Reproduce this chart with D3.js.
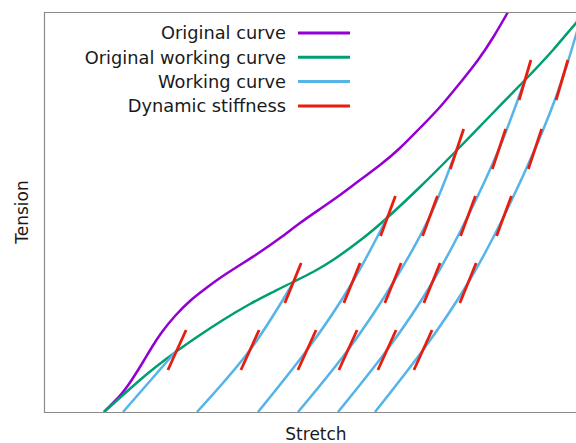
<!DOCTYPE html>
<html><head><meta charset="utf-8">
<script src="https://cdn.jsdelivr.net/npm/d3@7"></script>
<style>
html,body{margin:0;padding:0;background:#fff;}
svg{display:block;}
text{font-family:"DejaVu Sans",Verdana,sans-serif;fill:#1a1a1a;}
</style></head>
<body>
<svg id="chart" width="576" height="443"></svg>
<script>
// ---- data (arbitrary units: stretch, tension) ----
const originalCurve = [[60,0],[69,9],[79,20],[89,34],[99,50],[108,65],[118,80],[131,96],[146,111],[161,123],[176,134],[196,147],[216,160],[236,174],[256,189],[276,203],[296,217],[316,232],[336,247],[356,264],[376,284],[396,305],[416,329],[434,352],[450,376],[464,400]];
const originalWorkingCurve = [[60,0],[79,17],[96,32],[113,46],[133,61],[153,75],[179,92],[206,108],[229,120],[249,130],[269,140],[289,152],[306,164],[323,177],[344,195],[376,225],[413,262],[446,296],[481,332],[509,362],[532,389],[545,402]];
const workingCurve1 = [[79,0],[106,31],[133,62]];
const workingCurve2 = [[153,0],[206,62],[249,129]];
const workingCurve3 = [[214,0],[263,62],[308,129],[344,196]];
const workingCurve4 = [[254,0],[304,62],[349,129],[386,196],[413,263]];
const workingCurve5 = [[294,0],[343,62],[388,129],[424,196],[455,263],[481,332]];
const workingCurve6 = [[331,0],[379,62],[424,129],[460,196],[491,263],[518,332],[540,405]];
const workingCurves = [workingCurve1, workingCurve2, workingCurve3, workingCurve4, workingCurve5, workingCurve6];
// dynamic stiffness: tension level, stretch positions on working curves, slope
const stiffnessLevels = [62, 129, 196, 263, 332];
const stiffnessStretch = [
  [133, 206, 263, 304, 343, 379],
  [249, 308, 349, 388, 424],
  [344, 386, 424, 460],
  [413, 455, 491],
  [481, 518]
];
const stiffnessSlope = [2.2, 2.45, 2.7, 3.0, 3.4];
const stiffnessHalfSpan = 20; // tension half span of each stiffness segment
const legendLabels = ["Original curve", "Original working curve", "Working curve", "Dynamic stiffness"];
const colors = ["#9400d3", "#009e73", "#56b4e9", "#e51e10"];
const xLabel = "Stretch", yLabel = "Tension";

// ---- layout ----
const svg = d3.select("#chart");
const mLeft = 44, mTop = 12, mBottom = 412, mRight = 576;
const x = d3.scaleLinear().domain([0, 532]).range([mLeft, mRight]);
const y = d3.scaleLinear().domain([0, 400]).range([mBottom, mTop]);

svg.append("defs").append("clipPath").attr("id", "clip")
  .append("rect").attr("x", mLeft).attr("y", mTop).attr("width", 600).attr("height", mBottom - mTop);

const line = d3.line().x(d => x(d[0])).y(d => y(d[1])).curve(d3.curveNatural);
const g = svg.append("g").attr("clip-path", "url(#clip)");

g.append("path").datum(originalCurve).attr("d", line)
  .attr("fill", "none").attr("stroke", colors[0]).attr("stroke-width", 2.5);
g.append("path").datum(originalWorkingCurve).attr("d", line)
  .attr("fill", "none").attr("stroke", colors[1]).attr("stroke-width", 2.5);
g.selectAll("path.work").data(workingCurves).join("path").attr("class", "work")
  .attr("d", line).attr("fill", "none").attr("stroke", colors[2]).attr("stroke-width", 2.5);

const segs = [];
stiffnessLevels.forEach((t, i) => {
  stiffnessStretch[i].forEach(s => {
    const dx = stiffnessHalfSpan / stiffnessSlope[i];
    segs.push([[s - dx, t - stiffnessHalfSpan], [s + dx, t + stiffnessHalfSpan]]);
  });
});
g.selectAll("line.stiff").data(segs).join("line").attr("class", "stiff")
  .attr("x1", d => x(d[0][0])).attr("y1", d => y(d[0][1]))
  .attr("x2", d => x(d[1][0])).attr("y2", d => y(d[1][1]))
  .attr("stroke", colors[3]).attr("stroke-width", 2.8);

// frame
svg.append("path")
  .attr("d", `M${mRight + 5},${mTop + 0.5}H${mLeft + 0.5}V${mBottom + 0.5}H${mRight + 5}`)
  .attr("fill", "none").attr("stroke", "#8a8a8a").attr("stroke-width", 1.2);

// legend
const leg = svg.append("g");
legendLabels.forEach((lab, i) => {
  const yy = 33 + i * 24.3;
  leg.append("text").attr("x", 286).attr("y", yy).attr("dy", "0.35em")
    .attr("text-anchor", "end").style("font-size", "17.8px").text(lab);
  leg.append("line").attr("x1", 298).attr("x2", 350).attr("y1", yy).attr("y2", yy)
    .attr("stroke", colors[i]).attr("stroke-width", 3);
});

// axis labels
svg.append("text").attr("x", 316).attr("y", 440).attr("text-anchor", "middle")
  .style("font-size", "17px").text(xLabel);
svg.append("text").attr("transform", "translate(28,212) rotate(-90)")
  .attr("text-anchor", "middle").style("font-size", "17px").text(yLabel);
</script>
</body></html>
